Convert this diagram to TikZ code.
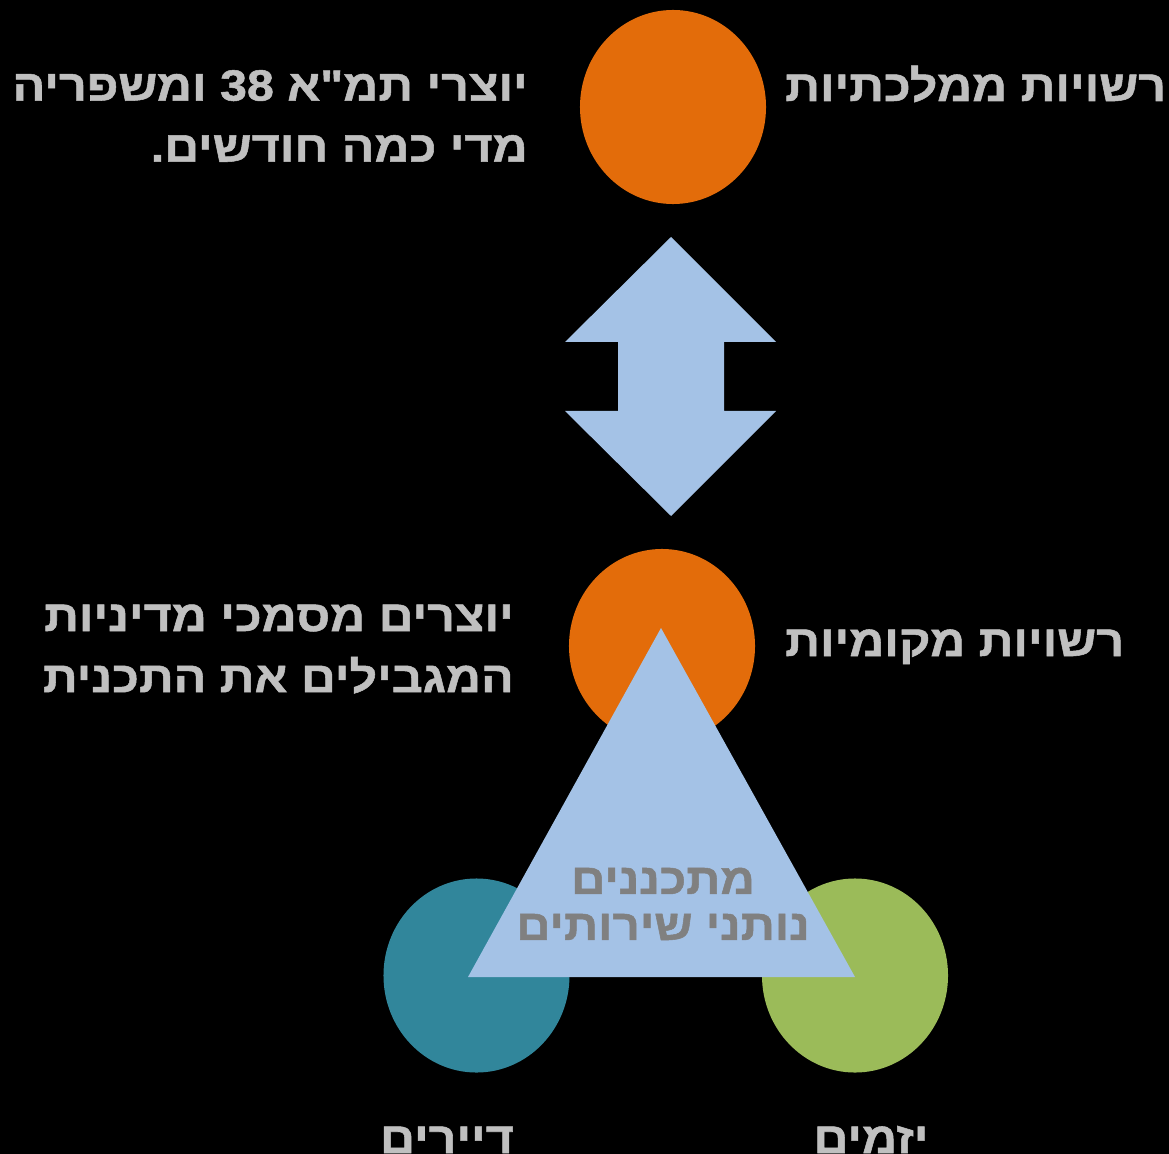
\documentclass[tikz,border=0pt]{standalone}
\usepackage{fontspec}
\newfontfamily\hebfont[Script=Hebrew, FakeStretch=1.11, BoldFeatures={FakeBold=1.2}]{Liberation Sans}
\TeXXeTstate=1
\usepackage{tikz}
\usetikzlibrary{shapes.geometric, positioning}
\definecolor{circorange}{RGB}{227, 108, 10}
\definecolor{arrowblue}{RGB}{164, 194, 230}
\definecolor{circteal}{RGB}{49, 134, 155}
\definecolor{circgreen}{RGB}{155, 187, 89}
\definecolor{labelgray}{RGB}{192, 192, 192}
\definecolor{innergray}{RGB}{128, 128, 128}
\newcommand{\heb}[1]{\beginR #1\endR}
\tikzset{
	circ/.style={ellipse, minimum width=4.65cm, minimum height=4.85cm, inner sep=0pt},
	lbl/.style={text=labelgray, inner sep=0pt, font=\hebfont\bfseries\fontsize{31}{43.5}\selectfont},
	innerlbl/.style={text=innergray, inner sep=0pt, align=center, font=\hebfont\bfseries\fontsize{30.5}{32.7}\selectfont}
}

\begin{document}
\begin{tikzpicture}[x=0.025cm, y=-0.025cm]
	\useasboundingbox (0,0) rectangle (1169,1154);
	\fill[black] (0,0) rectangle (1169,1154);
	\clip (0,0) rectangle (1169,1154);

	% circles
	\node[circ, fill=circorange] (state) at (673,107) {};
	\node[circ, fill=circorange] (local) at (662,646) {};
	\node[circ, fill=circteal] (tenants) at (476.5,975.5) {};
	\node[circ, fill=circgreen] (devs) at (855,975.5) {};

	% double arrow between the two levels
	\fill[arrowblue] (671,237) -- (776,342) -- (724,342) -- (724,411) -- (776,411) -- (671,516)
		-- (565,411) -- (618,411) -- (618,342) -- (565,342) -- cycle;

	% triangle of planners
	\coordinate (apex) at (661,628);
	\coordinate (baseleft) at (468,977);
	\coordinate (baseright) at (855,977);
	\fill[arrowblue] (apex) -- (baseleft) -- (baseright) -- cycle;
	\node[innerlbl] (planners) at (663,904) {\heb{מתכננים}\\\heb{נותני שירותים}};

	% labels
	\node[lbl, anchor=base west] (stateLbl) at (785,101) {\heb{רשויות ממלכתיות}};
	\node[lbl, anchor=east, align=right] (stateNote) at (528,116)
		{\heb{יוצרי תמ"א \beginL 38\endL{} ומשפריה}\\\heb{מדי כמה חודשים.}};
	\node[lbl, anchor=base west] (localLbl) at (785,656) {\heb{רשויות מקומיות}};
	\node[lbl, anchor=east, align=right] (localNote) at (514,649)
		{\heb{יוצרים מסמכי מדיניות}\\\heb{המגבילים את התכנית}};
	\node[lbl, anchor=base] (tenantsLbl) at (447,1153) {\heb{דיירים}};
	\node[lbl, anchor=base] (devsLbl) at (871,1153) {\heb{יזמים}};
\end{tikzpicture}
\end{document}
